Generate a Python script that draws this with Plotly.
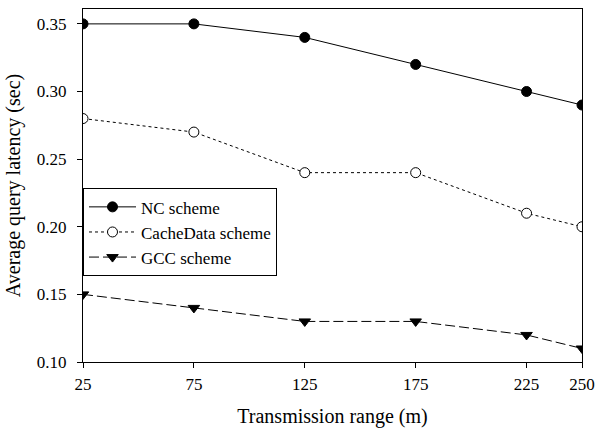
import plotly.graph_objects as go

# Transmission range (m) and average query latency (sec) for each scheme
ranges = [25, 75, 125, 175, 225, 250]
nc_latency = [0.35, 0.35, 0.34, 0.32, 0.30, 0.29]
cachedata_latency = [0.28, 0.27, 0.24, 0.24, 0.21, 0.20]
gcc_latency = [0.15, 0.14, 0.13, 0.13, 0.12, 0.11]

x_ticks = [25, 75, 125, 175, 225, 250]
y_ticks = [0.10, 0.15, 0.20, 0.25, 0.30, 0.35]

FONT = "Liberation Serif"

fig = go.Figure()

fig.add_trace(go.Scatter(
    x=ranges, y=nc_latency, name="NC scheme", mode="lines+markers",
    line=dict(color="black", width=1, dash="solid"),
    marker=dict(symbol="circle", size=10, color="black",
                line=dict(color="black", width=1)),
))
fig.add_trace(go.Scatter(
    x=ranges, y=cachedata_latency, name="CacheData scheme", mode="lines+markers",
    line=dict(color="black", width=1, dash="dot"),
    marker=dict(symbol="circle", size=10, color="white",
                line=dict(color="black", width=1)),
))
fig.add_trace(go.Scatter(
    x=ranges, y=gcc_latency, name="GCC scheme", mode="lines+markers",
    line=dict(color="black", width=1, dash="10px,4px"),
    marker=dict(symbol="triangle-down", size=10, color="black",
                line=dict(color="black", width=1)),
))

axis_common = dict(
    showline=True, linecolor="black", linewidth=1, mirror=True,
    ticks="outside", ticklen=5, tickwidth=1, tickcolor="black",
    showgrid=False, zeroline=False,
    tickfont=dict(family=FONT, size=17, color="black"),
)

fig.update_xaxes(
    range=[25, 250], tickvals=x_ticks, ticktext=[str(v) for v in x_ticks],
    ticklabelstandoff=2,
    title=dict(text="Transmission range (m)", font=dict(family=FONT, size=20, color="black"),
               standoff=15),
    **axis_common,
)
fig.update_yaxes(
    range=[0.10, 0.361], tickvals=y_ticks, ticktext=[f"{v:.2f}" for v in y_ticks],
    ticklabelstandoff=7,
    title=dict(text="Average query latency (sec)", font=dict(family=FONT, size=20, color="black"),
               standoff=10),
    **axis_common,
)

fig.update_layout(
    width=603, height=431,
    margin=dict(l=83, r=14, t=8, b=68),
    paper_bgcolor="white", plot_bgcolor="white",
    font=dict(family=FONT, color="black"),
    legend=dict(
        x=0, y=0.492, xanchor="left", yanchor="top",
        bgcolor="white", bordercolor="black", borderwidth=1,
        font=dict(family=FONT, size=17, color="black"),
        tracegroupgap=0, itemwidth=47,
    ),
    showlegend=True,
)

fig.write_html("out.html")
